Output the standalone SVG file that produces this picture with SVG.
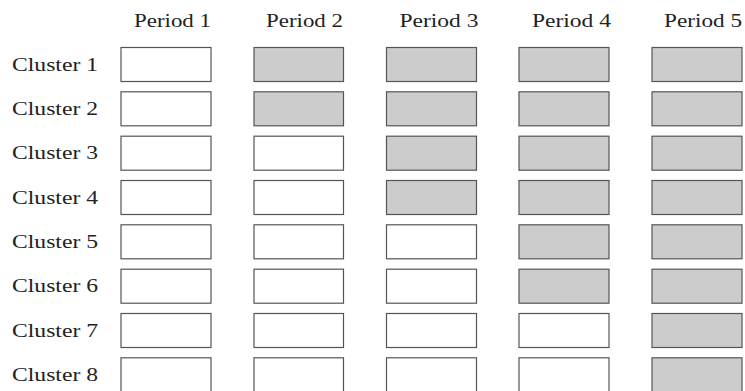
<svg xmlns="http://www.w3.org/2000/svg" width="745" height="391" viewBox="0 0 745 391">
<style>
text{font-family:"Liberation Serif","DejaVu Serif",serif;font-size:19px;fill:#222}
.b{fill:#ffffff;stroke:#555;stroke-width:1.2}
.g{fill:#cccccc;stroke:#555;stroke-width:1.2}
</style>
<rect width="745" height="391" fill="#fff"/>
<g id="headers">
<text x="134" y="27" textLength="77" lengthAdjust="spacingAndGlyphs">Period 1</text>
<text x="266" y="27" textLength="77" lengthAdjust="spacingAndGlyphs">Period 2</text>
<text x="399.5" y="27" textLength="79" lengthAdjust="spacingAndGlyphs">Period 3</text>
<text x="532" y="27" textLength="79" lengthAdjust="spacingAndGlyphs">Period 4</text>
<text x="664" y="27" textLength="78" lengthAdjust="spacingAndGlyphs">Period 5</text>
</g>
<g id="labels">
<text x="12" y="70.5" textLength="86" lengthAdjust="spacingAndGlyphs">Cluster 1</text>
<text x="12" y="114.8" textLength="86" lengthAdjust="spacingAndGlyphs">Cluster 2</text>
<text x="12" y="159.2" textLength="86" lengthAdjust="spacingAndGlyphs">Cluster 3</text>
<text x="12" y="203.5" textLength="86" lengthAdjust="spacingAndGlyphs">Cluster 4</text>
<text x="12" y="247.8" textLength="86" lengthAdjust="spacingAndGlyphs">Cluster 5</text>
<text x="12" y="292.2" textLength="86" lengthAdjust="spacingAndGlyphs">Cluster 6</text>
<text x="12" y="336.5" textLength="86" lengthAdjust="spacingAndGlyphs">Cluster 7</text>
<text x="12" y="380.8" textLength="86" lengthAdjust="spacingAndGlyphs">Cluster 8</text>
</g>
<g id="row1">
<rect class="b" x="121" y="47.5" width="90" height="34"/>
<rect class="g" x="254" y="47.5" width="89.5" height="34"/>
<rect class="g" x="386.5" y="47.5" width="90" height="34"/>
<rect class="g" x="519" y="47.5" width="90" height="34"/>
<rect class="g" x="652" y="47.5" width="90" height="34"/>
</g>
<g id="row2">
<rect class="b" x="121" y="91.8" width="90" height="34"/>
<rect class="g" x="254" y="91.8" width="89.5" height="34"/>
<rect class="g" x="386.5" y="91.8" width="90" height="34"/>
<rect class="g" x="519" y="91.8" width="90" height="34"/>
<rect class="g" x="652" y="91.8" width="90" height="34"/>
</g>
<g id="row3">
<rect class="b" x="121" y="136.2" width="90" height="34"/>
<rect class="b" x="254" y="136.2" width="89.5" height="34"/>
<rect class="g" x="386.5" y="136.2" width="90" height="34"/>
<rect class="g" x="519" y="136.2" width="90" height="34"/>
<rect class="g" x="652" y="136.2" width="90" height="34"/>
</g>
<g id="row4">
<rect class="b" x="121" y="180.5" width="90" height="34"/>
<rect class="b" x="254" y="180.5" width="89.5" height="34"/>
<rect class="g" x="386.5" y="180.5" width="90" height="34"/>
<rect class="g" x="519" y="180.5" width="90" height="34"/>
<rect class="g" x="652" y="180.5" width="90" height="34"/>
</g>
<g id="row5">
<rect class="b" x="121" y="224.8" width="90" height="34"/>
<rect class="b" x="254" y="224.8" width="89.5" height="34"/>
<rect class="b" x="386.5" y="224.8" width="90" height="34"/>
<rect class="g" x="519" y="224.8" width="90" height="34"/>
<rect class="g" x="652" y="224.8" width="90" height="34"/>
</g>
<g id="row6">
<rect class="b" x="121" y="269.2" width="90" height="34"/>
<rect class="b" x="254" y="269.2" width="89.5" height="34"/>
<rect class="b" x="386.5" y="269.2" width="90" height="34"/>
<rect class="g" x="519" y="269.2" width="90" height="34"/>
<rect class="g" x="652" y="269.2" width="90" height="34"/>
</g>
<g id="row7">
<rect class="b" x="121" y="313.5" width="90" height="34"/>
<rect class="b" x="254" y="313.5" width="89.5" height="34"/>
<rect class="b" x="386.5" y="313.5" width="90" height="34"/>
<rect class="b" x="519" y="313.5" width="90" height="34"/>
<rect class="g" x="652" y="313.5" width="90" height="34"/>
</g>
<g id="row8">
<rect class="b" x="121" y="357.8" width="90" height="34"/>
<rect class="b" x="254" y="357.8" width="89.5" height="34"/>
<rect class="b" x="386.5" y="357.8" width="90" height="34"/>
<rect class="b" x="519" y="357.8" width="90" height="34"/>
<rect class="g" x="652" y="357.8" width="90" height="34"/>
</g>
<g id="connectors"/>
</svg>
